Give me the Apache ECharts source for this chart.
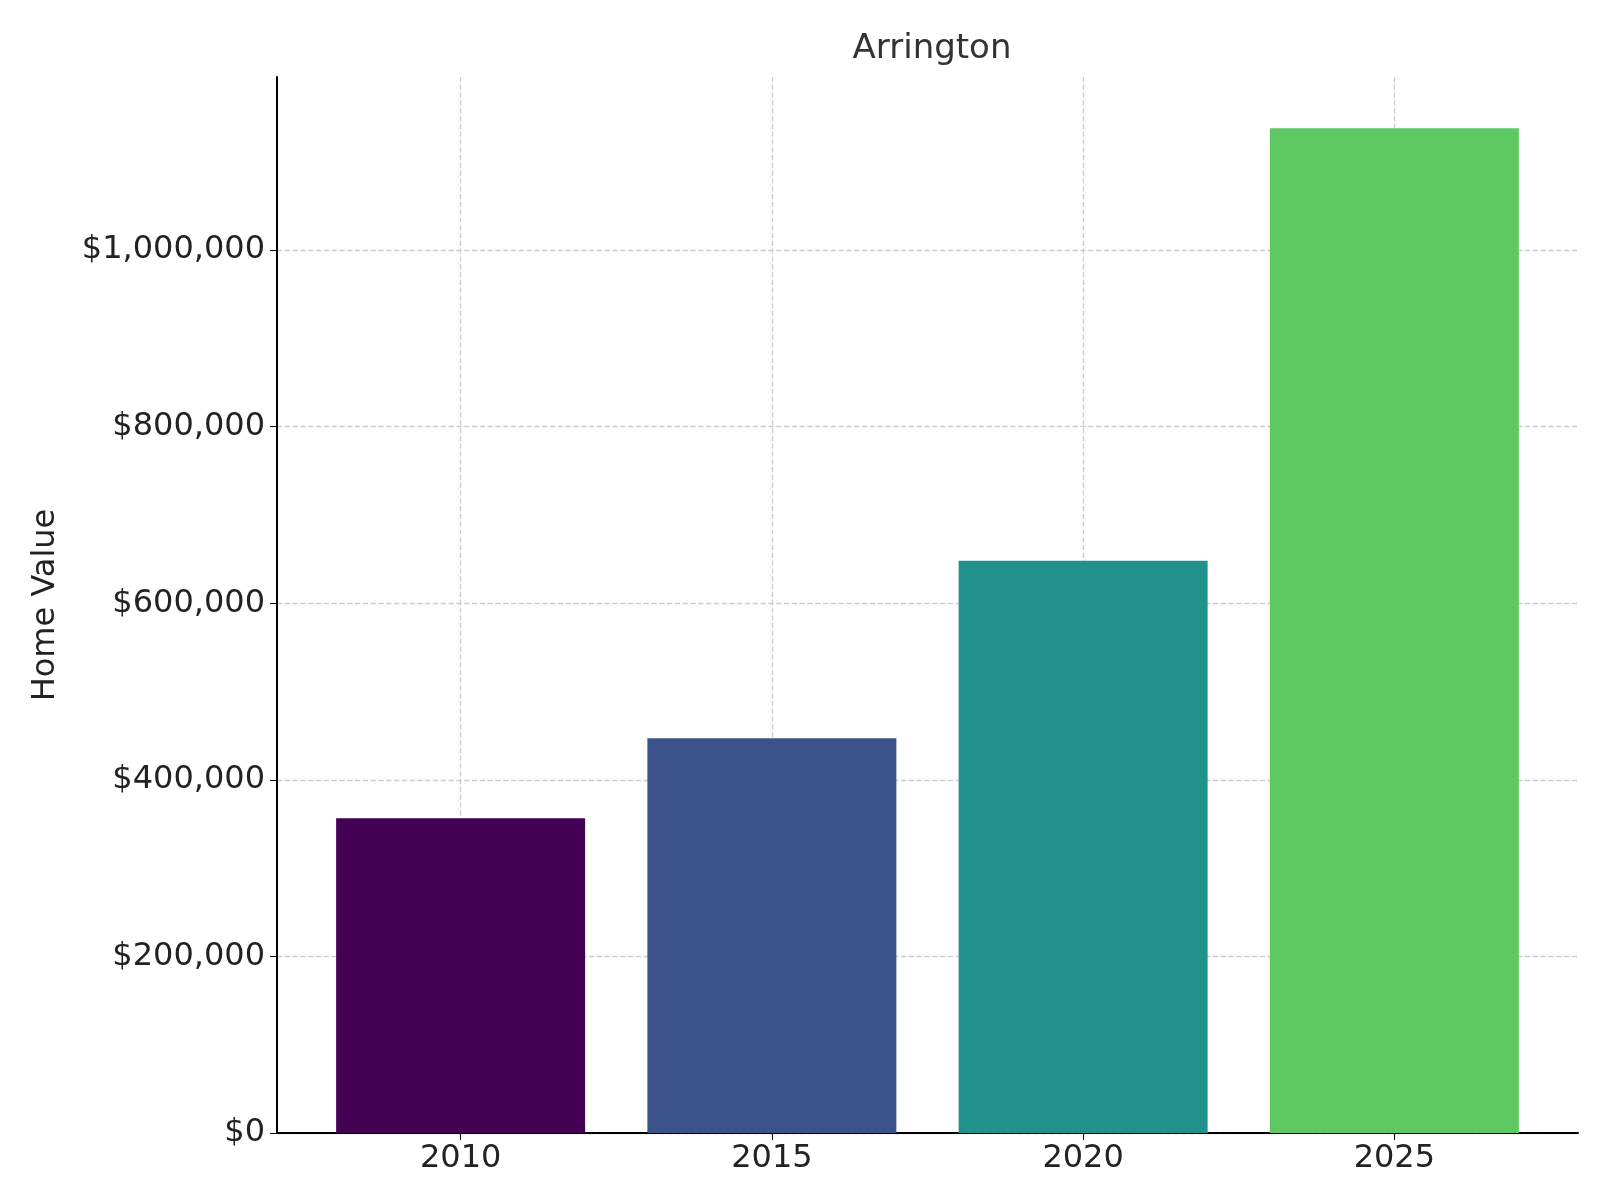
<!DOCTYPE html>
<html><head><meta charset="utf-8">
<script src="https://cdn.jsdelivr.net/npm/echarts@6/dist/echarts.min.js"></script>
<style>html,body{margin:0;padding:0;background:#fff}#main{width:1600px;height:1200px}</style>
</head><body><div id="main"></div>
<script>
var years = ['2010', '2015', '2020', '2025'];
var values = [356500, 447000, 648000, 1138000];
var colors = ['#440154', '#3b528b', '#21918c', '#5ec962'];
var yTicks = [0, 200000, 400000, 600000, 800000, 1000000];

var myChart = echarts.init(document.getElementById('main'));
var font = 'DejaVu Sans';
var option = {
    backgroundColor: '#fff',
    animation: false,
    title: {
        text: 'Arrington', left: 927, top: 27, textAlign: 'center',
        textStyle: {fontFamily: font, fontSize: 34, fontWeight: 'normal', color: '#333'}
    },
    grid: {left: 277, right: 22, top: 77, bottom: 67},
    xAxis: {
        type: 'value', min: -0.59, max: 3.59,
        axisLine: {onZero: false, lineStyle: {color: '#000', width: 2}},
        axisTick: {customValues: [0, 1, 2, 3], length: 7, lineStyle: {color: '#000'}},
        axisLabel: {customValues: [0, 1, 2, 3], fontFamily: font, fontSize: 32, color: '#222', margin: 10,
            formatter: function(v){ return years[Math.round(v)]; }},
        splitLine: {show: true, lineStyle: {type: 'dashed', color: '#ccc', width: 1.3}}
    },
    yAxis: {
        type: 'value', min: 0, max: 1196000,
        name: 'Home Value', nameLocation: 'middle', nameGap: 215, nameRotate: 90,
        nameTextStyle: {fontFamily: font, fontSize: 32, color: '#222'},
        axisLine: {show: true, onZero: false, lineStyle: {color: '#000', width: 2}},
        axisTick: {show: true, customValues: yTicks, length: 7, lineStyle: {color: '#000'}},
        axisLabel: {customValues: yTicks, fontFamily: font, fontSize: 32, color: '#222', margin: 12,
            formatter: function(v){ return '$' + v.toLocaleString('en-US'); }},
        splitLine: {show: true, lineStyle: {type: 'dashed', color: '#ccc', width: 1.3}}
    },
    series: [{
        type: 'bar', barWidth: 249, z: 1,
        data: values.map(function(v, i){ return {value: [i, v], itemStyle: {color: colors[i]}}; })
    }]
};
myChart.setOption(option);
</script></body></html>
